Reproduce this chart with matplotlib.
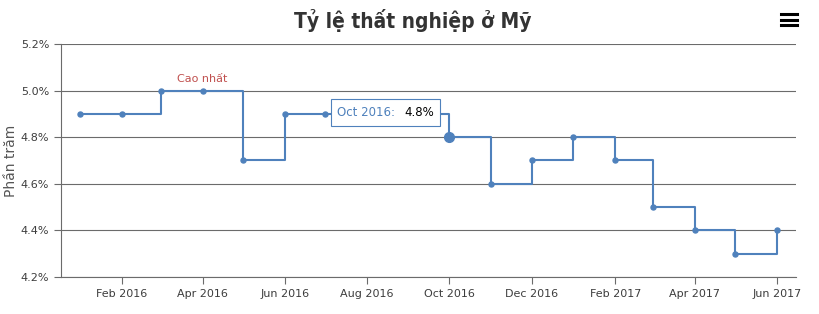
import matplotlib
matplotlib.use("Agg")
import matplotlib.dates as mdates
import matplotlib.transforms as mtransforms
import numpy as np
import pandas as pd
from matplotlib import pyplot as plt
from matplotlib.lines import Line2D
from matplotlib.patches import Rectangle
from matplotlib.ticker import FuncFormatter, MultipleLocator

months = [
    "2016-01", "2016-02", "2016-03", "2016-04", "2016-05", "2016-06",
    "2016-07", "2016-08", "2016-09", "2016-10", "2016-11", "2016-12",
    "2017-01", "2017-02", "2017-03", "2017-04", "2017-05", "2017-06",
]
rates = [4.9, 4.9, 5.0, 5.0, 4.7, 4.9, 4.9, 4.9, 4.9, 4.8, 4.6, 4.7,
         4.8, 4.7, 4.5, 4.4, 4.3, 4.4]
peak_month = "2016-04"
peak_label = "Cao nhất"
hover_month = "2016-10"
hover_label = "Oct 2016:"
title = "Tỷ lệ thất nghiệp ở Mỹ"
y_title = "Phần trăm"

LINE = "#4F81BC"
GRID = "#6b6b6b"
TEXT = "#3d3d3d"

dates = pd.to_datetime(months)
values = np.asarray(rates)

plt.rcParams["font.family"] = ["DejaVu Sans"]
figure = plt.figure(figsize=(8.2, 3.14), dpi=100)
axis = figure.add_axes((61 / 820, 1 - 277 / 314, 735 / 820, 233 / 314))

axis.step(dates, values, where="post", color=LINE, linewidth=1.5, zorder=3)
axis.plot(dates, values, "o", color=LINE, markersize=3.6, zorder=4)

hover_date = pd.Timestamp(hover_month)
hover_value = values[list(months).index(hover_month)]
axis.plot([hover_date], [hover_value], "o", color=LINE, markersize=7, zorder=5)

peak_date = pd.Timestamp(peak_month)
peak_value = values[list(months).index(peak_month)]
axis.annotate(peak_label, xy=(peak_date, peak_value), xytext=(0, 12),
              textcoords="offset pixels", ha="center", va="center",
              fontsize=8, color="#C0504E", zorder=6)

axis.set_xlim(pd.Timestamp("2015-12-18"), pd.Timestamp("2017-06-15"))
axis.set_ylim(4.2, 5.2)

# tooltip: box sized in pixels, anchored on the hovered point
anchor = mtransforms.ScaledTranslation(mdates.date2num(hover_date), hover_value,
                                       axis.transData)
box_trans = mtransforms.Affine2D() + anchor
axis.add_patch(Rectangle((-118, 11), 109, 27, transform=box_trans,
                         facecolor="white", edgecolor=LINE, linewidth=0.8,
                         zorder=7, clip_on=False))
axis.annotate(hover_label, xy=(hover_date, hover_value), xytext=(-112, 24.5),
              textcoords="offset pixels", ha="left", va="center",
              fontsize=8.5, color=LINE, zorder=8)
axis.annotate(f"{hover_value:.1f}%", xy=(hover_date, hover_value), xytext=(-15, 24.5),
              textcoords="offset pixels", ha="right", va="center",
              fontsize=8.5, color="black", zorder=8)

axis.yaxis.set_major_locator(MultipleLocator(0.2))
axis.yaxis.set_major_formatter(FuncFormatter(lambda v, _: f"{v:.1f}%"))
axis.xaxis.set_major_locator(mdates.MonthLocator(bymonth=[2, 4, 6, 8, 10, 12]))
axis.xaxis.set_major_formatter(mdates.DateFormatter("%b %Y"))

axis.grid(axis="y", color=GRID, linewidth=0.8)
axis.set_axisbelow(True)
for side in ("top", "right"):
    axis.spines[side].set_visible(False)
for side in ("left", "bottom"):
    axis.spines[side].set_color(GRID)
    axis.spines[side].set_linewidth(0.8)
axis.tick_params(axis="both", colors=GRID, labelcolor=TEXT, labelsize=8,
                 length=5, width=0.8)
axis.set_ylabel(y_title, fontsize=10, color="#555555", labelpad=2)

figure.text(413 / 820, 1 - 21 / 314, title, ha="center", va="center",
            fontsize=15, fontweight="bold", fontstretch="condensed",
            color="#333333", family=["DejaVu Sans"])

for y in (14, 19.5, 25):
    figure.add_artist(Line2D([781 / 820, 797 / 820], [1 - y / 314] * 2,
                             color="black", linewidth=2.2))

figure.savefig("out.png", dpi=100)
plt.close(figure)
